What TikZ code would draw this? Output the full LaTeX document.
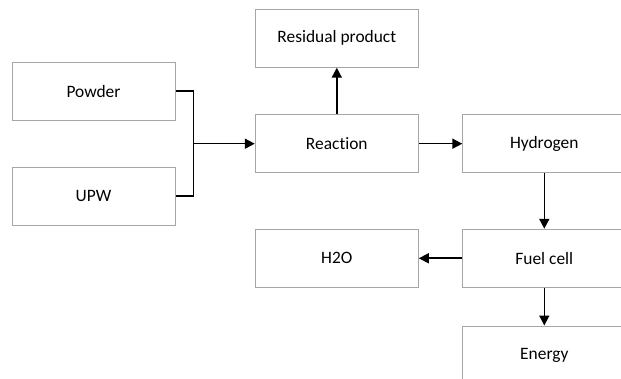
\documentclass[tikz,border=0pt]{standalone}
\usepackage{fontspec}
\setmainfont{Carlito}[Ligatures=NoCommon]
\usepackage{xcolor}
\usetikzlibrary{arrows.meta,positioning}
\definecolor{ink}{HTML}{000000}
\definecolor{boxedge}{HTML}{A6A6A6}

\begin{document}
\begin{tikzpicture}[
  x=1pt,y=-1pt,
  font=\fontsize{17.4}{20}\selectfont,
  box/.style={draw=boxedge,line width=1pt,fill=white,text=ink,
    minimum width=163pt,minimum height=58pt,inner sep=0pt},
  flow/.style={-{Triangle[length=10pt,width=10pt]},line width=1.6pt,draw=ink},
  feed/.style={line width=1.6pt,draw=ink}
]
\useasboundingbox (0,0) rectangle (621,379);
\clip (0,0) rectangle (621,379);

% Inputs
\node[box] (powder) at (93.5,91.3) {Powder};
\node[box] (upw) at (93.5,196.3) {UPW};
\coordinate (merge) at (193.3,143.7);

% Reaction stage
\node[box] (reaction) at (336.8,143.7) {Reaction};
\node[box] (residual) at (336.8,38.2) {Residual product};
\node[box] (hydrogen) at (544.3,143.7) {Hydrogen};

% Fuel cell stage
\node[box] (fuelcell) at (544.3,258.3) {Fuel cell};
\node[box] (water) at (336.8,258.3) {H2O};
\node[box] (energy) at (544.3,355) {Energy};

% Flows
\draw[feed] (powder.east) -| (merge);
\draw[feed] (upw.east) -| (merge);
\draw[flow] (merge) -- (reaction.west);
\draw[flow] (reaction.north) -- (residual.south);
\draw[flow] (reaction.east) -- (hydrogen.west);
\draw[flow] (hydrogen.south) -- (fuelcell.north);
\draw[flow] (fuelcell.west) -- (water.east);
\draw[flow] (fuelcell.south) -- (energy.north);
\end{tikzpicture}
\end{document}
